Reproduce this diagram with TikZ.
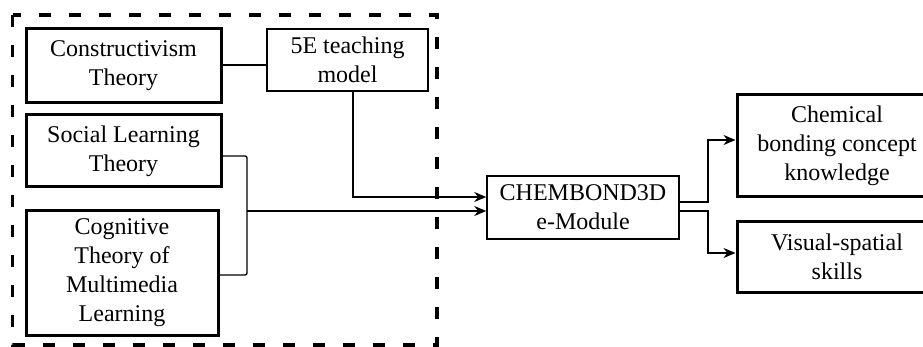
\documentclass[tikz,border=0pt]{standalone}
\usepackage{fontspec}
\setmainfont{Liberation Serif}
\usetikzlibrary{calc,arrows.meta}

\begin{document}
\begin{tikzpicture}[x=1pt, y=-1pt,
    caja/.style={draw, line width=#1, align=center, inner sep=0pt,
                 font=\fontsize{24}{29}\selectfont},
    caja/.default=3pt,
    linea/.style={line width=1.4pt},
    flecha/.style={linea, -{Stealth[length=12pt,width=10pt]}}]

    \clip (0,0) rectangle (923,347);

    \def\gruesa{3pt}
    \def\fina{1.5pt}

    % Teorias de base
    \node[caja=\gruesa, minimum width=195pt, minimum height=74pt] (constructivism) at (123.5,66) {Constructivism\\Theory};
    \node[caja=\gruesa, minimum width=195pt, minimum height=72pt] (social) at (123.5,151) {Social Learning\\Theory};
    \node[caja=\gruesa, minimum width=192pt, minimum height=124pt] (cognitive) at (122,273) {Cognitive\\Theory of\\Multimedia\\Learning};
    \node[caja=\fina, minimum width=161pt, minimum height=62pt] (model) at (347.5,60) {5E teaching\\model};

    % Modulo y resultados
    \node[caja=\fina, minimum width=192pt, minimum height=63pt] (module) at (583,207.5) {CHEMBOND3D\\e-Module};
    \node[caja=\gruesa, minimum width=200pt, minimum height=102pt] (knowledge) at (837,146) {Chemical\\bonding concept\\knowledge};
    \node[caja=\gruesa, minimum width=200pt, minimum height=70pt] (skills) at (837,257) {Visual-spatial\\skills};

    % Marco discontinuo
    \draw[line width=3.5pt, dash pattern=on 12pt off 18pt] (12.7,15) rectangle (437,345);

    % Conexiones
    \coordinate (link) at ($(constructivism.east)+(0,-1)$);
    \draw[linea] (link) -- (link -| model.west);
    \draw[flecha] ($(model.south)+(5.5,0)$) |- ($(module.west)+(0,-10.5)$);

    \coordinate (brace) at (247,211);
    \draw[linea, rounded corners=2pt] ($(social.east)+(0,5)$) -| (brace) |- ($(cognitive.east)+(0,2)$);
    \draw[flecha] (brace) -- (brace -| module.west);

    \coordinate (split) at (708,207);
    \draw[flecha] ($(module.east)+(0,-5.5)$) -| ($(split)+(0,-5)$) |- ($(knowledge.west)+(0,-6)$);
    \draw[flecha] ($(module.east)+(0,3.5)$) -| ($(split)+(0,4)$) |- ($(skills.west)+(0,-4)$);

\end{tikzpicture}
\end{document}
